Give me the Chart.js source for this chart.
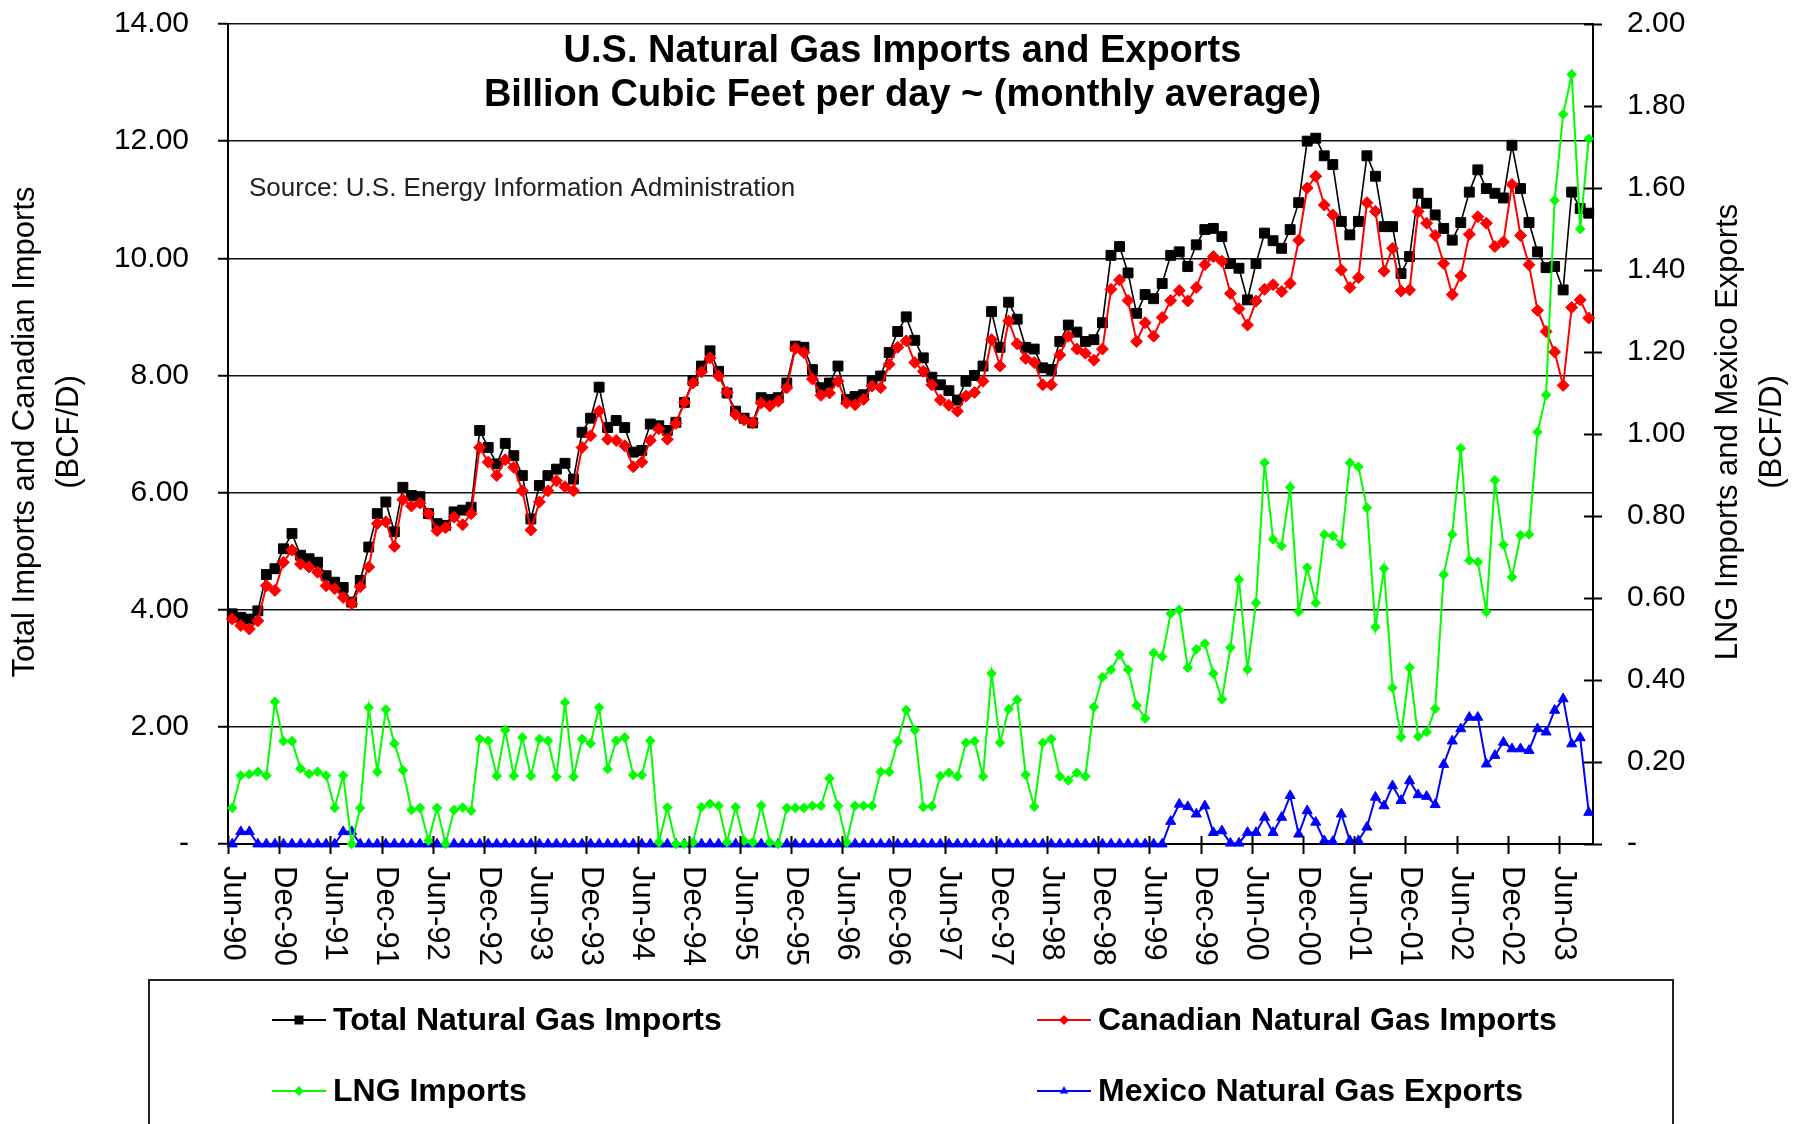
<!DOCTYPE html>
<html>
<head>
<meta charset="utf-8">
<title>U.S. Natural Gas Imports and Exports</title>
<script src="https://cdn.jsdelivr.net/npm/chart.js@4.4.1/dist/chart.umd.min.js"></script>
<style>
  html, body { margin: 0; padding: 0; background: #fff; overflow: hidden; }
  #wrap { width: 1797px; height: 1124px; }
</style>
</head>
<body>
<div id="wrap"><canvas id="gasChart" width="1797" height="1124"></canvas></div>
<script>
/* ---- Data (BCF/D, monthly average, Jun-90 .. Sep-03) ---- */
const START_YEAR = 1990;
const START_MONTH = 5; // June
const LABEL_EVERY = 6;

const totalImports = [
  3.93, 3.87, 3.84, 3.98, 4.60, 4.70, 5.04, 5.30, 4.93, 4.87,
  4.81, 4.58, 4.47, 4.38, 4.13, 4.50, 5.07, 5.64, 5.84, 5.33,
  6.09, 5.95, 5.93, 5.64, 5.47, 5.44, 5.67, 5.70, 5.75, 7.06,
  6.77, 6.49, 6.84, 6.63, 6.29, 5.55, 6.12, 6.29, 6.40, 6.50,
  6.23, 7.03, 7.27, 7.80, 7.11, 7.23, 7.11, 6.69, 6.72, 7.17,
  7.14, 7.06, 7.20, 7.54, 7.91, 8.16, 8.42, 8.07, 7.70, 7.39,
  7.27, 7.19, 7.62, 7.59, 7.62, 7.87, 8.50, 8.48, 8.10, 7.79,
  7.87, 8.16, 7.59, 7.64, 7.67, 7.90, 7.99, 8.39, 8.75, 9.00,
  8.60, 8.30, 7.97, 7.84, 7.74, 7.58, 7.90, 8.00, 8.16, 9.09,
  8.48, 9.25, 8.96, 8.48, 8.45, 8.13, 8.10, 8.58, 8.86, 8.74,
  8.58, 8.61, 8.90, 10.05, 10.20, 9.75, 9.06, 9.38, 9.31, 9.57,
  10.05, 10.11, 9.86, 10.23, 10.49, 10.51, 10.37, 9.91, 9.83, 9.29,
  9.91, 10.43, 10.30, 10.17, 10.49, 10.95, 12.00, 12.05, 11.75, 11.60,
  10.63, 10.40, 10.63, 11.75, 11.40, 10.54, 10.54, 9.74, 10.03, 11.11,
  10.94, 10.74, 10.51, 10.31, 10.61, 11.13, 11.51, 11.19, 11.11, 11.03,
  11.93, 11.19, 10.61, 10.11, 9.84, 9.86, 9.46, 11.13, 10.85, 10.77,
];

const canadianImports = [
  3.84, 3.73, 3.67, 3.81, 4.41, 4.33, 4.81, 5.02, 4.78, 4.73,
  4.64, 4.41, 4.36, 4.21, 4.10, 4.39, 4.73, 5.47, 5.50, 5.08,
  5.88, 5.77, 5.82, 5.64, 5.35, 5.40, 5.58, 5.45, 5.64, 6.77,
  6.52, 6.29, 6.56, 6.43, 6.03, 5.36, 5.84, 6.03, 6.20, 6.10,
  6.03, 6.77, 6.97, 7.39, 6.91, 6.89, 6.80, 6.44, 6.52, 6.89,
  7.09, 6.91, 7.18, 7.54, 7.87, 8.06, 8.30, 7.99, 7.71, 7.33,
  7.24, 7.19, 7.53, 7.48, 7.56, 7.79, 8.46, 8.39, 7.94, 7.66,
  7.70, 7.90, 7.53, 7.50, 7.59, 7.82, 7.79, 8.19, 8.48, 8.59,
  8.22, 8.07, 7.84, 7.58, 7.49, 7.39, 7.65, 7.71, 7.90, 8.61,
  8.16, 8.93, 8.54, 8.29, 8.22, 7.84, 7.84, 8.35, 8.67, 8.45,
  8.38, 8.26, 8.45, 9.47, 9.63, 9.28, 8.58, 8.90, 8.67, 8.99,
  9.28, 9.45, 9.27, 9.50, 9.89, 10.03, 9.95, 9.40, 9.14, 8.86,
  9.27, 9.47, 9.55, 9.43, 9.57, 10.31, 11.20, 11.40, 10.91, 10.74,
  9.80, 9.50, 9.67, 10.95, 10.80, 9.78, 10.17, 9.44, 9.46, 10.80,
  10.60, 10.39, 9.91, 9.38, 9.70, 10.41, 10.71, 10.60, 10.20, 10.28,
  11.26, 10.39, 9.89, 9.11, 8.75, 8.40, 7.83, 9.16, 9.29, 8.98,
];

const lngImports = [
  0.088, 0.167, 0.170, 0.176, 0.167, 0.347, 0.251, 0.251, 0.184, 0.171,
  0.176, 0.167, 0.088, 0.167, 0.000, 0.088, 0.333, 0.176, 0.328, 0.245,
  0.180, 0.083, 0.088, 0.008, 0.088, 0.000, 0.083, 0.089, 0.081, 0.256,
  0.252, 0.166, 0.278, 0.166, 0.260, 0.166, 0.256, 0.252, 0.164, 0.345,
  0.164, 0.256, 0.245, 0.333, 0.183, 0.252, 0.260, 0.168, 0.168, 0.252,
  0.004, 0.089, 0.000, 0.000, 0.004, 0.090, 0.098, 0.093, 0.004, 0.090,
  0.008, 0.004, 0.094, 0.004, 0.000, 0.088, 0.088, 0.088, 0.093, 0.093,
  0.160, 0.093, 0.004, 0.093, 0.093, 0.093, 0.176, 0.176, 0.250, 0.327,
  0.278, 0.090, 0.092, 0.166, 0.174, 0.165, 0.247, 0.251, 0.165, 0.416,
  0.247, 0.329, 0.352, 0.169, 0.091, 0.247, 0.256, 0.165, 0.155, 0.174,
  0.165, 0.334, 0.407, 0.425, 0.462, 0.425, 0.338, 0.306, 0.466, 0.457,
  0.562, 0.571, 0.430, 0.475, 0.489, 0.416, 0.353, 0.479, 0.645, 0.426,
  0.588, 0.930, 0.743, 0.727, 0.870, 0.567, 0.674, 0.588, 0.755, 0.751,
  0.731, 0.930, 0.920, 0.820, 0.529, 0.672, 0.381, 0.261, 0.430, 0.262,
  0.273, 0.330, 0.657, 0.755, 0.965, 0.692, 0.688, 0.566, 0.887, 0.730,
  0.651, 0.753, 0.755, 1.005, 1.095, 1.570, 1.780, 1.877, 1.500, 1.720,
];

const mexicoExports = [
  0, 0.030, 0.030, 0, 0, 0, 0, 0, 0, 0,
  0, 0, 0, 0.030, 0.030, 0, 0, 0, 0, 0,
  0, 0, 0, 0, 0, 0, 0, 0, 0, 0,
  0, 0, 0, 0, 0, 0, 0, 0, 0, 0,
  0, 0, 0, 0, 0, 0, 0, 0, 0, 0,
  0, 0, 0, 0, 0, 0, 0, 0, 0, 0,
  0, 0, 0, 0, 0, 0, 0, 0, 0, 0,
  0, 0, 0, 0, 0, 0, 0, 0, 0, 0,
  0, 0, 0, 0, 0, 0, 0, 0, 0, 0,
  0, 0, 0, 0, 0, 0, 0, 0, 0, 0,
  0, 0, 0, 0, 0, 0, 0, 0, 0, 0,
  0.055, 0.097, 0.091, 0.073, 0.093, 0.028, 0.032, 0.002, 0.002, 0.028,
  0.028, 0.065, 0.028, 0.065, 0.118, 0.024, 0.081, 0.053, 0.008, 0.006,
  0.073, 0.008, 0.008, 0.041, 0.114, 0.093, 0.142, 0.106, 0.154, 0.120,
  0.116, 0.096, 0.194, 0.251, 0.281, 0.309, 0.309, 0.195, 0.216, 0.248,
  0.232, 0.232, 0.228, 0.281, 0.273, 0.326, 0.354, 0.244, 0.259, 0.077,
];

const seriesNames = [
  "Total Natural Gas Imports",
  "Canadian Natural Gas Imports",
  "LNG Imports",
  "Mexico Natural Gas Exports",
];
const titleLines = [
  "U.S. Natural Gas Imports and Exports",
  "Billion Cubic Feet per day ~ (monthly average)",
];
const sourceNote = "Source: U.S. Energy Information Administration";
const leftAxisTitle = ["Total Imports and Canadian Imports", "(BCF/D)"];
const rightAxisTitle = ["LNG Imports and Mexico Exports", "(BCF/D)"];

const FONT = "'Liberation Sans', Arial, Helvetica, sans-serif";

/* ---- Helper: month labels like "Jun-90" ---- */
function monthLabels(count) {
  const names = ["Jan", "Feb", "Mar", "Apr", "May", "Jun", "Jul", "Aug", "Sep", "Oct", "Nov", "Dec"];
  const out = [];
  for (let i = 0; i < count; i++) {
    const m = START_MONTH + i;
    const yr = (START_YEAR + Math.floor(m / 12)) % 100;
    out.push(`${names[m % 12]}-${String(yr).padStart(2, "0")}`);
  }
  return out;
}
const months = monthLabels(totalImports.length);

/* ---- Small marker painter (legend samples) ---- */
function marker(ctx, style, x, y, r) {
  ctx.beginPath();
  if (style === "rect") {
    ctx.rect(x - r, y - r, 2 * r, 2 * r);
  } else if (style === "triangle") {
    ctx.moveTo(x, y - r);
    ctx.lineTo(x + r * 0.87, y + r * 0.5);
    ctx.lineTo(x - r * 0.87, y + r * 0.5);
    ctx.closePath();
  } else {
    ctx.moveTo(x, y - r);
    ctx.lineTo(x + r, y);
    ctx.lineTo(x, y + r);
    ctx.lineTo(x - r, y);
    ctx.closePath();
  }
  ctx.fill();
}

/* ---- Decorations: ticks, rotated labels, titles, legend ---- */
const decorPlugin = {
  id: "decor",
  afterDraw(chart) {
    const { ctx, chartArea: area, scales } = chart;
    const xs = scales.x;
    const y2 = scales.y2;
    const half = (xs.getPixelForValue(1) - xs.getPixelForValue(0)) / 2;

    ctx.save();
    ctx.strokeStyle = "#000";
    ctx.fillStyle = "#000";
    ctx.lineWidth = 2;

    // category ticks every 6 months, crossing the axis
    for (let i = 0; i <= months.length; i += LABEL_EVERY) {
      const px = Math.round(xs.getPixelForValue(i) - half) + 0.5;
      ctx.beginPath();
      ctx.moveTo(px, area.bottom - 8);
      ctx.lineTo(px, area.bottom + 10);
      ctx.stroke();
    }

    // rotated month labels, reading downward
    ctx.font = `31px ${FONT}`;
    ctx.textAlign = "left";
    ctx.textBaseline = "middle";
    months.forEach((lab, i) => {
      if (i % LABEL_EVERY) return;
      ctx.save();
      ctx.translate(xs.getPixelForValue(i), area.bottom + 22);
      ctx.rotate(Math.PI / 2);
      ctx.fillText(lab, 0, 0);
      ctx.restore();
    });

    // right axis cross ticks
    y2.ticks.forEach((t) => {
      const py = Math.round(y2.getPixelForValue(t.value)) + 0.5;
      ctx.beginPath();
      ctx.moveTo(area.right - 9, py);
      ctx.lineTo(area.right + 9, py);
      ctx.stroke();
    });

    // chart title inside the plot
    const cx = (area.left + area.right) / 2 - 8;
    ctx.textAlign = "center";
    ctx.font = `bold 38px ${FONT}`;
    ctx.fillText(titleLines[0], cx, 52);
    ctx.fillText(titleLines[1], cx, 96);

    // source note
    ctx.textAlign = "left";
    ctx.font = `26px ${FONT}`;
    ctx.fillStyle = "#222";
    ctx.fillText(sourceNote, 249, 189);
    ctx.fillStyle = "#000";

    // axis titles, both reading upward
    ctx.font = `31px ${FONT}`;
    ctx.textAlign = "center";
    const midY = 432;
    [[leftAxisTitle, [25, 69]], [rightAxisTitle, [1728, 1772]]].forEach(([lines, xs2]) => {
      lines.forEach((txt, k) => {
        ctx.save();
        ctx.translate(xs2[k], midY);
        ctx.rotate(-Math.PI / 2);
        ctx.fillText(txt, 0, 0);
        ctx.restore();
      });
    });

    // legend box
    ctx.lineWidth = 2;
    ctx.strokeStyle = "#222";
    ctx.strokeRect(149, 980, 1524, 200);

    const slots = [
      { x: 272, y: 1020 },
      { x: 1037, y: 1020 },
      { x: 272, y: 1091 },
      { x: 1037, y: 1091 },
    ];
    ctx.font = `bold 32px ${FONT}`;
    ctx.textAlign = "left";
    chart.data.datasets.forEach((ds, k) => {
      const s = slots[k];
      ctx.strokeStyle = ds.borderColor;
      ctx.fillStyle = ds.borderColor;
      ctx.lineWidth = 2;
      ctx.beginPath();
      ctx.moveTo(s.x, s.y);
      ctx.lineTo(s.x + 54, s.y);
      ctx.stroke();
      marker(ctx, ds.pointStyle, s.x + 27, s.y, ds.pointStyle === "rect" ? 4.5 : 5);
      ctx.fillStyle = "#000";
      ctx.fillText(ds.label, s.x + 61, s.y + 1);
    });

    ctx.restore();
  },
};

/* ---- Chart ---- */
function initGasChart() {
  const el = document.getElementById("gasChart");

  const line = (label, data, color, axis, style, radius, width, order) => ({
    label,
    data,
    yAxisID: axis,
    borderColor: color,
    backgroundColor: color,
    borderWidth: width,
    pointStyle: style,
    pointRadius: radius,
    pointBorderWidth: 1,
    pointBackgroundColor: color,
    pointBorderColor: color,
    tension: 0,
    clip: false,
    order,
  });

  // fixed axis boxes so the plot lands where the original one sits
  const fixWidth = (w) => (s) => {
    s.width = w;
    s.paddingTop = 0;
    s.paddingBottom = 0;
  };

  new Chart(el, {
    type: "line",
    data: {
      labels: months,
      datasets: [
        line(seriesNames[0], totalImports, "#000000", "y", "rect", 7, 1.6, 4),
        line(seriesNames[1], canadianImports, "#ff0000", "y", "rectRot", 6, 2, 3),
        line(seriesNames[2], lngImports, "#00ff00", "y2", "rectRot", 4.8, 2, 1),
        line(seriesNames[3], mexicoExports, "#0000ff", "y2", "triangle", 5.8, 2, 2),
      ],
    },
    options: {
      responsive: false,
      devicePixelRatio: 1,
      animation: false,
      events: [],
      layout: { padding: { top: 24, left: 0, right: 0, bottom: 0 } },
      plugins: {
        legend: { display: false },
        title: { display: false },
        tooltip: { enabled: false },
      },
      scales: {
        x: {
          type: "category",
          offset: true,
          grid: { display: false, offset: true },
          border: { display: true, color: "#000", width: 2 },
          ticks: { display: false, autoSkip: false },
          afterFit: (s) => {
            s.height = 280;
            s.paddingLeft = 0;
            s.paddingRight = 0;
          },
        },
        y: {
          position: "left",
          min: 0,
          max: 14,
          ticks: {
            stepSize: 2,
            padding: 29,
            color: "#000",
            font: { family: FONT, size: 30 },
            callback: (v) => (v === 0 ? "-" : v.toFixed(2)),
          },
          grid: { color: "#111", lineWidth: 1.5, tickLength: 10, tickColor: "#000", tickWidth: 2 },
          border: { display: true, color: "#000", width: 2 },
          afterFit: fixWidth(228),
        },
        y2: {
          position: "right",
          min: 0,
          max: 2,
          ticks: {
            stepSize: 0.2,
            padding: 34,
            color: "#000",
            font: { family: FONT, size: 30 },
            callback: (v) => (Math.abs(v) < 1e-9 ? "-" : v.toFixed(2)),
          },
          grid: { drawOnChartArea: false, drawTicks: false },
          border: { display: true, color: "#000", width: 2 },
          afterFit: fixWidth(204),
        },
      },
    },
    plugins: [decorPlugin],
  });
}

document.addEventListener("DOMContentLoaded", initGasChart);
</script>
</body>
</html>
